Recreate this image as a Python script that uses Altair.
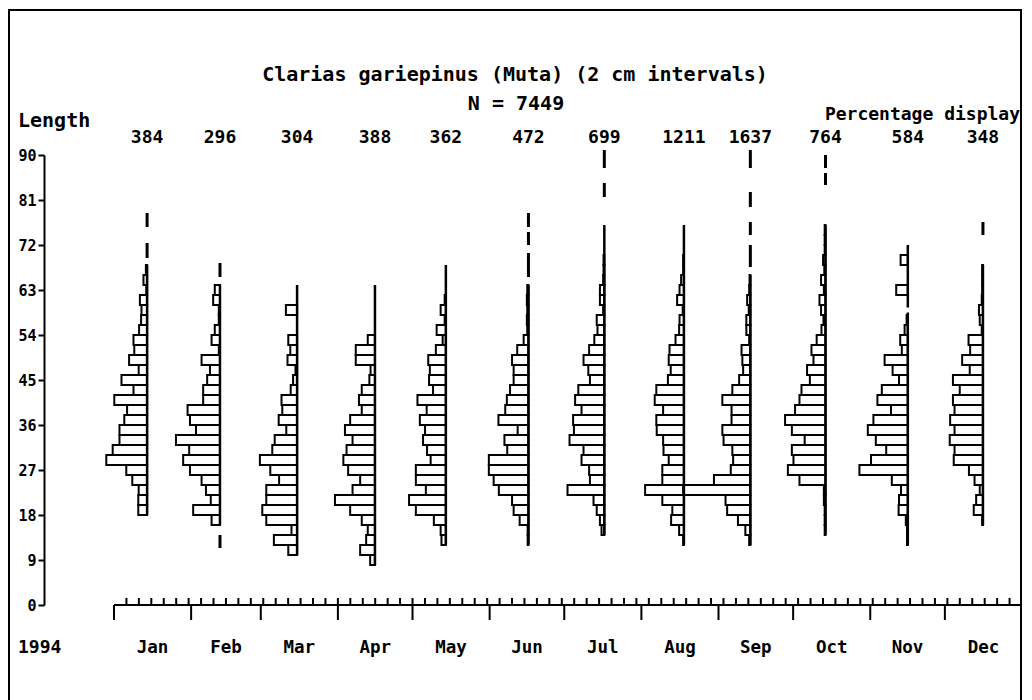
import altair as alt
import pandas as pd

# ---------------- data ----------------
MONTHS = ["Jan", "Feb", "Mar", "Apr", "May", "Jun", "Jul", "Aug", "Sep", "Oct", "Nov", "Dec"]
COUNTS = [384, 296, 304, 388, 362, 472, 699, 1211, 1637, 764, 584, 348]
SAMPLE_DAY = [13.3, 42.6, 73.6, 104.9, 133.4, 166.6, 197.1, 229.1, 255.8, 286.0, 319.1, 349.3]
MONTH_START = [0, 31, 59, 90, 120, 151, 181, 212, 243, 273, 304, 334, 365]
Y_TICKS = [0, 9, 18, 27, 36, 45, 54, 63, 72, 81, 90]

# lowest 2-cm class (cm) of each month's histogram
BIN_START = [18, 16, 10, 8, 12, 12, 14, 12, 12, 14, 12, 16]
# percentage in each 2-cm class, from BIN_START upwards
jan = [2.2, 2.2, 2.1, 3.7, 5.2, 10.2, 8.6, 6.9, 6.9, 5.7, 5.0, 8.2, 3.4, 6.4, 2.1, 4.5,
       3.2, 3.4, 2.0, 1.5, 1.4, 1.8, 0.2, 0.9, 0.3]
feb = [2.1, 6.7, 2.3, 3.5, 4.6, 7.5, 9.2, 7.7, 11.0, 6.0, 7.5, 8.1, 4.2, 4.2, 3.2, 2.5,
       4.6, 0.3, 2.1, 1.3, 0.3, 0.3, 1.7, 1.3]
mar = [2.2, 5.8, 1.4, 7.7, 8.7, 7.7, 7.7, 4.5, 6.7, 9.3, 6.2, 5.6, 2.7, 4.6, 3.7, 3.9,
       1.6, 1.0, 0.4, 2.4, 1.7, 2.2, 0, 0, 2.8]
apr = [1.2, 3.7, 2.2, 1.8, 3.3, 6.2, 10.0, 5.6, 3.7, 6.7, 7.9, 7.1, 5.6, 7.5, 6.2, 3.3,
       4.0, 3.3, 1.4, 1.1, 4.8, 4.8, 1.8]
may = [1.1, 1.3, 3.0, 7.5, 9.2, 5.0, 7.5, 7.5, 3.8, 4.7, 5.7, 5.2, 6.5, 4.8, 7.1, 3.2,
       4.2, 4.0, 4.4, 2.5, 0.8, 2.3, 0.3, 1.3, 0.3]
jun = [0.2, 0.2, 2.2, 3.7, 4.1, 7.4, 8.7, 9.9, 9.9, 5.3, 6.0, 2.7, 7.5, 5.8, 5.4, 4.6,
       3.7, 3.7, 4.1, 2.8, 1.2, 0.3, 0.4, 0.3, 0.4, 0.3]
jul = [0.7, 1.1, 1.9, 2.7, 9.2, 3.6, 3.8, 5.7, 5.2, 8.7, 7.6, 7.8, 5.7, 7.3, 6.5, 3.6,
       4.0, 5.2, 3.8, 2.5, 1.7, 1.9, 0.3, 1.1, 1.1, 0.3, 0.2, 0.2]
aug = [0.2, 1.2, 3.2, 2.9, 5.4, 9.7, 5.4, 5.4, 3.8, 5.1, 5.2, 6.8, 6.9, 5.2, 7.3, 6.9,
       4.0, 3.3, 3.8, 3.6, 2.1, 1.2, 1.1, 0.3, 1.7, 1.1, 0.7, 0.2, 0.2]
sep = [0.3, 1.25, 3.1, 5.8, 6.2, 16.8, 9.1, 4.9, 4.3, 4.5, 6.7, 7.0, 4.7, 4.7, 7.0, 4.5,
       2.8, 1.8, 2.0, 2.2, 0.3, 1.0, 1.0, 0.4, 0.8, 0.3, 0.2]
oct_ = [0.2, 0.2, 0.2, 0.4, 0.4, 6.5, 9.4, 8.0, 8.4, 5.2, 8.4, 10.1, 7.6, 6.5, 6.0, 3.9,
        4.6, 3.0, 3.5, 2.2, 1.0, 0.5, 1.1, 1.5, 0.4, 1.1, 0.3, 0.6, 0.2, 0.2, 0.2]
nov = [0.2, 0.2, 0.5, 2.3, 2.2, 1.7, 4.0, 12.1, 9.2, 5.4, 8.0, 10.0, 8.6, 4.2, 7.6, 6.5,
       2.2, 3.8, 5.8, 1.5, 1.9, 0.8, 0.3, 0, 0, 2.9, 0, 0, 1.8]
dec = [0.2, 2.3, 1.7, 0.8, 2.1, 3.5, 7.3, 7.1, 8.3, 7.1, 8.2, 7.1, 7.5, 5.8, 7.5, 3.3,
       5.2, 3.2, 3.6, 0.3, 0.8, 1.0, 0.3, 0.2, 0.2, 0.2]
PCT = [jan, feb, mar, apr, may, jun, jul, aug, sep, oct_, nov, dec]

# continuous vertical base lines (month index, from cm, to cm)
SEG_MONTH = [0, 1, 2, 3, 4, 5, 6, 7, 8, 9, 10, 10, 11]
SEG_LO = [18, 16, 10, 8, 12, 12, 14, 12, 12, 14, 12, 59.5, 16]
SEG_HI = [68, 64, 64, 64, 68, 64, 76, 76, 66, 76, 58.5, 72, 68]
# isolated dashes along the base lines
DASH_MONTH = [0, 0, 1, 1, 5, 5, 5, 6, 6, 8, 8, 8, 8, 9, 9, 11]
DASH_LO = [69.4, 75.6, 65.6, 11.4, 65.6, 72.0, 75.6, 81.6, 87.4, 67.6, 74.0, 79.6, 87.4, 84.0, 87.4, 74.0]
DASH_HI = [72.4, 78.4, 68.4, 14.0, 70.4, 74.6, 78.4, 84.4, 91.0, 72.0, 76.6, 82.6, 91.0, 86.4, 90.0, 76.6]

# ---------------- layout ----------------
W, H = 908, 450
PX_PER_PCT = 4.0
DAY_PER_PCT = PX_PER_PCT / (W / 365.0)
FONT = "DejaVu Sans Mono"

bars = []
for m, arr in enumerate(PCT):
    for k, v in enumerate(arr):
        if v > 0:
            lo = BIN_START[m] + 2 * k
            bars.append({"month": MONTHS[m], "lo": lo, "hi": lo + 2,
                         "base": SAMPLE_DAY[m], "left": SAMPLE_DAY[m] - v * DAY_PER_PCT, "pct": v})
bars_df = pd.DataFrame(bars)

seg_df = pd.DataFrame({"day": [SAMPLE_DAY[i] for i in SEG_MONTH], "lo": SEG_LO, "hi": SEG_HI})
dash_df = pd.DataFrame({"day": [SAMPLE_DAY[i] for i in DASH_MONTH], "lo": DASH_LO, "hi": DASH_HI})
count_df = pd.DataFrame({"day": SAMPLE_DAY, "n": [str(c) for c in COUNTS]})
mid_df = pd.DataFrame({"day": [(MONTH_START[i] + MONTH_START[i + 1]) / 2 for i in range(12)],
                       "label": MONTHS})
major_df = pd.DataFrame({"day": MONTH_START})
minor_df = pd.DataFrame({"day": list(range(5, 365, 5))})
one = pd.DataFrame({"a": [0]})

xs = alt.Scale(domain=[0, 365], nice=False, zero=False)
ys = alt.Scale(domain=[0, 90], nice=False, zero=False)
Y_AXIS = alt.Axis(values=Y_TICKS, offset=70, tickSize=6, tickWidth=2, domainWidth=2,
                  domainColor="black", tickColor="black", labelColor="black",
                  labelFont=FONT, labelFontSize=15, labelFontWeight="bold",
                  labelPadding=2, grid=False, title=None, zindex=1)

frame = alt.Chart(one).mark_rect(fillOpacity=0, stroke="black", strokeWidth=2).encode(
    x=alt.value(-105), x2=alt.value(907), y=alt.value(-145), y2=alt.value(570))

bar_layer = alt.Chart(bars_df).mark_bar(fill="white", stroke="black", strokeWidth=2).encode(
    x=alt.X("left:Q", scale=xs, axis=None),
    x2="base:Q",
    y=alt.Y("lo:Q", scale=ys, axis=Y_AXIS),
    y2="hi:Q",
)

seg_layer = alt.Chart(seg_df).mark_rule(color="black", strokeWidth=2.5).encode(
    x=alt.X("day:Q", scale=xs, axis=None), y=alt.Y("lo:Q", scale=ys, axis=Y_AXIS), y2="hi:Q")
dash_layer = alt.Chart(dash_df).mark_rule(color="black", strokeWidth=3).encode(
    x=alt.X("day:Q", scale=xs, axis=None), y=alt.Y("lo:Q", scale=ys, axis=Y_AXIS), y2="hi:Q")

axis_line = alt.Chart(one).mark_rule(color="black", strokeWidth=2).encode(
    x=alt.value(0), x2=alt.value(W), y=alt.value(H))
major = alt.Chart(major_df).mark_rule(color="black", strokeWidth=2).encode(
    x=alt.X("day:Q", scale=xs, axis=None), y=alt.value(H), y2=alt.value(H + 15))
minor = alt.Chart(minor_df).mark_rule(color="black", strokeWidth=2).encode(
    x=alt.X("day:Q", scale=xs, axis=None), y=alt.value(H), y2=alt.value(H - 7))


def txt(size, **kw):
    base = dict(font=FONT, fontSize=size, fontWeight="bold", color="black", baseline="middle")
    base.update(kw)
    return base


month_text = alt.Chart(mid_df).mark_text(**txt(17.5, align="center")).encode(
    x=alt.X("day:Q", scale=xs, axis=None), y=alt.value(493), text="label:N")
count_text = alt.Chart(count_df).mark_text(**txt(18, align="center")).encode(
    x=alt.X("day:Q", scale=xs, axis=None), y=alt.value(-17), text="n:N")


def label(s, x, y, align, size=20):
    return alt.Chart(pd.DataFrame({"t": [s]})).mark_text(**txt(size, align=align)).encode(
        x=alt.value(x), y=alt.value(y), text="t:N")


title = label("Clarias gariepinus (Muta) (2 cm intervals)", 401, -80, "center")
ntext = label("N = 7449", 402, -51, "center")
length = label("Length", -96, -34, "left")
pct_text = label("Percentage display", 906, -40, "right", 18)
year = label("1994", -96, 493, "left", 18)

chart = alt.layer(
    frame, bar_layer, seg_layer, dash_layer, axis_line, major, minor,
    month_text, count_text, title, ntext, length, pct_text, year,
).properties(
    width=W, height=H,
    background="white",
    autosize=alt.AutoSizeParams(type="none"),
    padding={"left": 106, "top": 147, "right": 0, "bottom": 95},
).configure_view(strokeWidth=0)

chart.save("out.html", embed_options={"renderer": "svg", "actions": False})
